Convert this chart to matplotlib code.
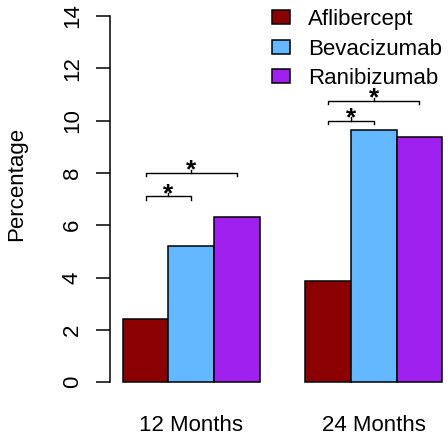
import matplotlib
matplotlib.use("Agg")
import matplotlib.pyplot as plt
from matplotlib.patches import Patch

plt.rcParams["font.family"] = ["Liberation Sans", "DejaVu Sans"]

# data
groups = ["12 Months", "24 Months"]
drugs = ["Aflibercept", "Bevacizumab", "Ranibizumab"]
colors = ["#8B0000", "#63B8FF", "#A020F0"]
values_12 = [2.40, 5.20, 6.31]
values_24 = [3.86, 9.66, 9.37]
# significance brackets: (group, first drug, second drug, height)
brackets = [(0, 0, 1, 7.1), (0, 0, 2, 8.0), (1, 0, 1, 10.0), (1, 0, 2, 10.75)]

fig = plt.figure(figsize=(4.48, 4.38), dpi=100)
ax = fig.add_axes([0.2453, 0.0939, 0.7705, 0.903])

# R-style beside barplot: bars of width 1, one bar gap between groups
lefts = []
for g, vals in enumerate([values_12, values_24]):
    start = 1 + g * (len(drugs) + 1)
    row = []
    for i, v in enumerate(vals):
        ax.bar(start + i, v, width=1, align="edge", color=colors[i],
               edgecolor="black", linewidth=1.1)
        row.append(start + i)
    lefts.append(row)

for g, a, b, h in brackets:
    x1 = lefts[g][a] + 0.5
    x2 = lefts[g][b] + 0.5
    xm = (x1 + x2) / 2
    d = 0.13
    ax.plot([x1, x1, x2, x2], [h - d, h, h, h - d], color="black", lw=1.0)
    ax.plot([xm, xm], [h, h + d], color="black", lw=1.0)
    ax.text(xm, h - 0.17, "*", ha="center", va="baseline", fontsize=19,
            fontweight="bold")

ax.set_xlim(0.72, 8.28)
ax.set_ylim(-0.56, 14.56)
for s in ["top", "right", "bottom"]:
    ax.spines[s].set_visible(False)
ax.spines["left"].set_bounds(0, 14)
ax.spines["left"].set_linewidth(1.1)

ax.set_yticks(range(0, 15, 2))
ax.tick_params(axis="y", length=10, width=1.1, labelsize=16, pad=9.5)
for lab in ax.get_yticklabels():
    lab.set_rotation(90)
    lab.set_va("center")

centers = [r[0] + len(drugs) / 2 for r in lefts]
ax.set_xticks(centers)
ax.set_xticklabels(groups, fontsize=16)
ax.tick_params(axis="x", length=0, pad=13)

fig.text(17 / 448, 1 - 184 / 438, "Percentage", rotation=90,
         ha="center", va="center", fontsize=16)

handles = [Patch(facecolor=c, edgecolor="black", linewidth=1.1) for c in colors]
ax.legend(handles, drugs, loc="upper left", bbox_to_anchor=(272 / 448, 0.979),
          bbox_transform=fig.transFigure, frameon=False, fontsize=16,
          handlelength=0.81, handleheight=0.59, handletextpad=0.81,
          labelspacing=0.38, borderpad=0.0, borderaxespad=0.0)

fig.savefig("out.png", dpi=100)
